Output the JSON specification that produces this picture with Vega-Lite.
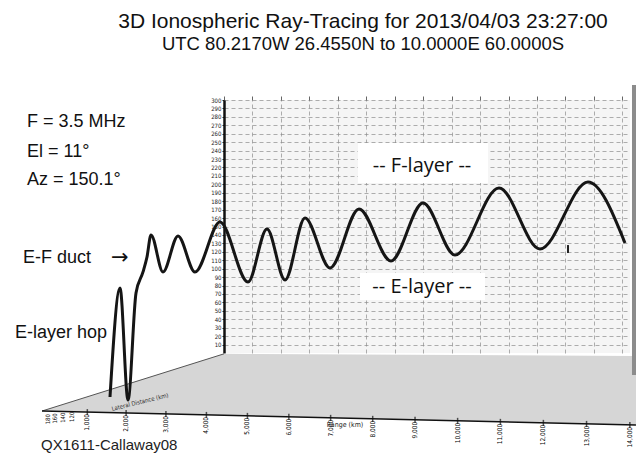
{
  "$schema": "https://vega.github.io/schema/vega-lite/v6.json",
  "width": 406,
  "height": 253,
  "autosize": {"type": "none"},
  "padding": {"left": 224, "top": 100, "right": 6, "bottom": 102},
  "background": "white",
  "config": {"view": {"fill": "#f5f5f5", "stroke": null}, "font": "Liberation Sans"},
  "title": {
    "text": "3D Ionospheric Ray-Tracing for 2013/04/03 23:27:00",
    "subtitle": "UTC 80.2170W 26.4550N to 10.0000E 60.0000S",
    "anchor": "middle",
    "frame": "group",
    "dx": -64,
    "offset": 31,
    "font": "Liberation Sans",
    "fontSize": 21,
    "fontWeight": "normal",
    "color": "#111111",
    "subtitleFont": "Liberation Sans",
    "subtitleFontSize": 18.5,
    "subtitleColor": "#111111",
    "subtitlePadding": 3
  },
  "datasets": {
    "ray": [
      {"r": -4006, "h": -52.2},
      {"r": -3654, "h": 77.1},
      {"r": -3373, "h": -55.8},
      {"r": -3092, "h": 71.2},
      {"r": -2846, "h": 96.1},
      {"r": -2706, "h": 113.9},
      {"r": -2565, "h": 140.0},
      {"r": -2144, "h": 96.1},
      {"r": -1616, "h": 138.8},
      {"r": -1019, "h": 96.1},
      {"r": -141, "h": 155.4},
      {"r": 843, "h": 84.2},
      {"r": 1511, "h": 147.1},
      {"r": 2144, "h": 86.6},
      {"r": 2846, "h": 160.1},
      {"r": 3725, "h": 100.8},
      {"r": 4744, "h": 170.8},
      {"r": 5868, "h": 109.1},
      {"r": 6993, "h": 177.9},
      {"r": 8117, "h": 116.2},
      {"r": 9664, "h": 195.7},
      {"r": 11104, "h": 123.4},
      {"r": 12791, "h": 202.8},
      {"r": 14091, "h": 130.5}
    ],
    "floor": [
      {"r": -6395, "top": -68.8, "bottom": -68.8},
      {"r": 0, "top": -1.0, "bottom": -73.9},
      {"r": 14478, "top": -3.6, "bottom": -85.4}
    ],
    "front": [
      {"km": 1000, "label": "1,000"},
      {"km": 2000, "label": "2,000"},
      {"km": 3000, "label": "3,000"},
      {"km": 4000, "label": "4,000"},
      {"km": 5000, "label": "5,000"},
      {"km": 6000, "label": "6,000"},
      {"km": 7000, "label": "7,000"},
      {"km": 8000, "label": "8,000"},
      {"km": 9000, "label": "9,000"},
      {"km": 10000, "label": "10,000"},
      {"km": 11000, "label": "11,000"},
      {"km": 12000, "label": "12,000"},
      {"km": 13000, "label": "13,000"},
      {"km": 14000, "label": "14,000"}
    ],
    "edge": [{"km": -267}, {"km": 14140}]
  },
  "layer": [
    {
      "data": {"name": "floor"},
      "mark": {"type": "area", "fill": "#d6d6d6"},
      "encoding": {
        "x": {"field": "r", "type": "quantitative", "scale": {"domain": [0, 14267], "nice": false, "zero": false}, "axis": null},
        "y": {"field": "top", "type": "quantitative", "scale": {"domain": [0, 300], "nice": false, "zero": false}, "axis": null},
        "y2": {"field": "bottom"}
      }
    },
    {
      "data": {"name": "floor"},
      "transform": [{"filter": "datum.r <= 0"}],
      "mark": {"type": "line", "color": "#555555", "strokeWidth": 1},
      "encoding": {
        "x": {"field": "r", "type": "quantitative", "scale": {"domain": [0, 14267], "nice": false, "zero": false}, "axis": null},
        "y": {"field": "top", "type": "quantitative", "scale": {"domain": [0, 300], "nice": false, "zero": false}, "axis": null}
      }
    },
    {
      "data": {"values": [{}]},
      "mark": {"type": "rect", "fill": "white"},
      "encoding": {
        "x": {"datum": 4709, "type": "quantitative", "scale": {"domain": [0, 14267], "nice": false, "zero": false}, "axis": null},
        "x2": {"datum": 9277},
        "y": {"datum": 249.1, "type": "quantitative", "scale": {"domain": [0, 300], "nice": false, "zero": false}, "axis": null},
        "y2": {"datum": 201.7}
      }
    },
    {
      "data": {"values": [{}]},
      "mark": {"type": "rect", "fill": "white"},
      "encoding": {
        "x": {"datum": 4779, "type": "quantitative", "scale": {"domain": [0, 14267], "nice": false, "zero": false}, "axis": null},
        "x2": {"datum": 9172},
        "y": {"datum": 94.9, "type": "quantitative", "scale": {"domain": [0, 300], "nice": false, "zero": false}, "axis": null},
        "y2": {"datum": 62.9}
      }
    },
    {
      "data": {"name": "ray"},
      "mark": {"type": "line", "color": "#151515", "strokeWidth": 3, "interpolate": "monotone"},
      "encoding": {
        "x": {
          "field": "r", "type": "quantitative",
          "scale": {"domain": [0, 14267], "nice": false, "zero": false},
          "axis": {
            "orient": "top", "title": null, "labels": false, "domain": false,
            "values": [0, 1000, 2000, 3000, 4000, 5000, 6000, 7000, 8000, 9000, 10000, 11000, 12000, 13000, 14000],
            "ticks": true, "tickSize": 4, "tickColor": "#666666",
            "grid": true, "gridDash": [4, 3], "gridColor": "#8c8c8c", "gridWidth": 0.7
          }
        },
        "y": {
          "field": "h", "type": "quantitative",
          "scale": {"domain": [0, 300], "nice": false, "zero": false},
          "axis": {
            "orient": "left", "title": null,
            "values": [10, 20, 30, 40, 50, 60, 70, 80, 90, 100, 110, 120, 130, 140, 150, 160, 170, 180, 190, 200, 210, 220, 230, 240, 250, 260, 270, 280, 290, 300],
            "labelFontSize": 6, "labelFont": "DejaVu Sans Condensed", "labelColor": "#222222", "labelPadding": 1, "labelOverlap": false,
            "tickSize": 2, "tickColor": "#222222",
            "domainColor": "#111111", "domainWidth": 2.5,
            "grid": true, "gridDash": [4, 3], "gridColor": "#8c8c8c", "gridWidth": 0.7
          }
        }
      }
    },
    {
      "data": {"values": [{}]},
      "mark": {"type": "text", "text": "-- F-layer --", "align": "center", "baseline": "alphabetic", "font": "Open Sans", "fontSize": 20, "color": "#111111"},
      "encoding": {
        "x": {"datum": 6958, "type": "quantitative", "scale": {"domain": [0, 14267], "nice": false, "zero": false}, "axis": null},
        "y": {"datum": 214.7, "type": "quantitative", "scale": {"domain": [0, 300], "nice": false, "zero": false}, "axis": null}
      }
    },
    {
      "data": {"values": [{}]},
      "mark": {"type": "text", "text": "-- E-layer --", "align": "center", "baseline": "alphabetic", "font": "Open Sans", "fontSize": 20, "color": "#111111"},
      "encoding": {
        "x": {"datum": 6958, "type": "quantitative", "scale": {"domain": [0, 14267], "nice": false, "zero": false}, "axis": null},
        "y": {"datum": 71.2, "type": "quantitative", "scale": {"domain": [0, 300], "nice": false, "zero": false}, "axis": null}
      }
    },
    {
      "data": {"values": [{}]},
      "mark": {"type": "text", "text": "F = 3.5 MHz", "align": "left", "baseline": "alphabetic", "fontSize": 18, "color": "#111111"},
      "encoding": {
        "x": {"datum": -6923, "type": "quantitative", "scale": {"domain": [0, 14267], "nice": false, "zero": false}, "axis": null},
        "y": {"datum": 268.1, "type": "quantitative", "scale": {"domain": [0, 300], "nice": false, "zero": false}, "axis": null}
      }
    },
    {
      "data": {"values": [{}]},
      "mark": {"type": "text", "text": "El = 11°", "align": "left", "baseline": "alphabetic", "fontSize": 18, "color": "#111111"},
      "encoding": {
        "x": {"datum": -6923, "type": "quantitative", "scale": {"domain": [0, 14267], "nice": false, "zero": false}, "axis": null},
        "y": {"datum": 232.5, "type": "quantitative", "scale": {"domain": [0, 300], "nice": false, "zero": false}, "axis": null}
      }
    },
    {
      "data": {"values": [{}]},
      "mark": {"type": "text", "text": "Az = 150.1°", "align": "left", "baseline": "alphabetic", "fontSize": 18, "color": "#111111"},
      "encoding": {
        "x": {"datum": -6923, "type": "quantitative", "scale": {"domain": [0, 14267], "nice": false, "zero": false}, "axis": null},
        "y": {"datum": 199.3, "type": "quantitative", "scale": {"domain": [0, 300], "nice": false, "zero": false}, "axis": null}
      }
    },
    {
      "data": {"values": [{}]},
      "mark": {"type": "text", "text": "E-F duct", "align": "left", "baseline": "alphabetic", "fontSize": 18, "color": "#111111"},
      "encoding": {
        "x": {"datum": -7063, "type": "quantitative", "scale": {"domain": [0, 14267], "nice": false, "zero": false}, "axis": null},
        "y": {"datum": 106.8, "type": "quantitative", "scale": {"domain": [0, 300], "nice": false, "zero": false}, "axis": null}
      }
    },
    {
      "data": {"values": [{}]},
      "mark": {"type": "text", "text": "→", "align": "left", "baseline": "middle", "font": "DejaVu Sans", "fontSize": 21, "color": "#111111"},
      "encoding": {
        "x": {"datum": -3972, "type": "quantitative", "scale": {"domain": [0, 14267], "nice": false, "zero": false}, "axis": null},
        "y": {"datum": 112.7, "type": "quantitative", "scale": {"domain": [0, 300], "nice": false, "zero": false}, "axis": null}
      }
    },
    {
      "data": {"values": [{}]},
      "mark": {"type": "text", "text": "E-layer hop", "align": "left", "baseline": "alphabetic", "fontSize": 18, "color": "#111111"},
      "encoding": {
        "x": {"datum": -7344, "type": "quantitative", "scale": {"domain": [0, 14267], "nice": false, "zero": false}, "axis": null},
        "y": {"datum": 17.8, "type": "quantitative", "scale": {"domain": [0, 300], "nice": false, "zero": false}, "axis": null}
      }
    },
    {
      "data": {"values": [{}]},
      "mark": {"type": "text", "text": "QX1611-Callaway08", "align": "left", "baseline": "alphabetic", "fontSize": 15, "color": "#222222"},
      "encoding": {
        "x": {"datum": -6431, "type": "quantitative", "scale": {"domain": [0, 14267], "nice": false, "zero": false}, "axis": null},
        "y": {"datum": -115.1, "type": "quantitative", "scale": {"domain": [0, 300], "nice": false, "zero": false}, "axis": null}
      }
    },
    {
      "data": {"values": [{}]},
      "mark": {"type": "text", "text": "Lateral Distance (km)", "align": "center", "baseline": "middle", "angle": 346, "font": "DejaVu Sans Condensed", "fontSize": 6, "color": "#333333"},
      "encoding": {
        "x": {"datum": -2952, "type": "quantitative", "scale": {"domain": [0, 14267], "nice": false, "zero": false}, "axis": null},
        "y": {"datum": -58.1, "type": "quantitative", "scale": {"domain": [0, 300], "nice": false, "zero": false}, "axis": null}
      }
    },
    {
      "data": {"values": [{}]},
      "mark": {"type": "text", "text": "180", "angle": 270, "align": "right", "baseline": "middle", "font": "DejaVu Sans Condensed", "fontSize": 6, "color": "#111111"},
      "encoding": {
        "x": {"datum": -6185, "type": "quantitative", "scale": {"domain": [0, 14267], "nice": false, "zero": false}, "axis": null},
        "y": {"datum": -72.4, "type": "quantitative", "scale": {"domain": [0, 300], "nice": false, "zero": false}, "axis": null}
      }
    },
    {
      "data": {"values": [{}]},
      "mark": {"type": "text", "text": "160", "angle": 270, "align": "right", "baseline": "middle", "font": "DejaVu Sans Condensed", "fontSize": 6, "color": "#111111"},
      "encoding": {
        "x": {"datum": -5939, "type": "quantitative", "scale": {"domain": [0, 14267], "nice": false, "zero": false}, "axis": null},
        "y": {"datum": -71.5, "type": "quantitative", "scale": {"domain": [0, 300], "nice": false, "zero": false}, "axis": null}
      }
    },
    {
      "data": {"values": [{}]},
      "mark": {"type": "text", "text": "140", "angle": 270, "align": "right", "baseline": "middle", "font": "DejaVu Sans Condensed", "fontSize": 6, "color": "#111111"},
      "encoding": {
        "x": {"datum": -5658, "type": "quantitative", "scale": {"domain": [0, 14267], "nice": false, "zero": false}, "axis": null},
        "y": {"datum": -70.6, "type": "quantitative", "scale": {"domain": [0, 300], "nice": false, "zero": false}, "axis": null}
      }
    },
    {
      "data": {"values": [{}]},
      "mark": {"type": "text", "text": "120", "angle": 270, "align": "right", "baseline": "middle", "font": "DejaVu Sans Condensed", "fontSize": 6, "color": "#111111"},
      "encoding": {
        "x": {"datum": -5341, "type": "quantitative", "scale": {"domain": [0, 14267], "nice": false, "zero": false}, "axis": null},
        "y": {"datum": -69.6, "type": "quantitative", "scale": {"domain": [0, 300], "nice": false, "zero": false}, "axis": null}
      }
    },
    {
      "data": {"values": [{}]},
      "mark": {"type": "rect", "fill": "#8c8c8c"},
      "encoding": {
        "x": {"datum": 14337, "type": "quantitative", "scale": {"domain": [0, 14267], "nice": false, "zero": false}, "axis": null},
        "x2": {"datum": 14478},
        "y": {"datum": 317.9, "type": "quantitative", "scale": {"domain": [0, 300], "nice": false, "zero": false}, "axis": null},
        "y2": {"datum": -26.1}
      }
    },
    {
      "data": {"values": [{}]},
      "mark": {"type": "rule", "color": "#222222", "strokeWidth": 2},
      "encoding": {
        "x": {"datum": 12088, "type": "quantitative", "scale": {"domain": [0, 14267], "nice": false, "zero": false}, "axis": null},
        "y": {"datum": 118.6, "type": "quantitative", "scale": {"domain": [0, 300], "nice": false, "zero": false}, "axis": null},
        "y2": {"datum": 128}
      }
    },
    {
      "data": {"name": "edge"},
      "mark": {"type": "line", "color": "#111111", "strokeWidth": 1.5},
      "encoding": {
        "x": {"field": "km", "type": "quantitative", "scale": {"type": "pow", "exponent": 1.05, "domain": [4430, 14003], "nice": false, "zero": false}, "axis": null},
        "y": {"field": "km", "type": "quantitative", "scale": {"type": "pow", "exponent": 1.05, "domain": [-55700, -274800], "nice": false, "zero": false}, "axis": null}
      }
    },
    {
      "data": {"name": "front"},
      "mark": {"type": "tick", "orient": "vertical", "color": "#111111", "size": 6, "thickness": 1.5},
      "encoding": {
        "x": {"field": "km", "type": "quantitative", "scale": {"type": "pow", "exponent": 1.05, "domain": [4430, 14003], "nice": false, "zero": false}, "axis": null},
        "y": {"field": "km", "type": "quantitative", "scale": {"type": "pow", "exponent": 1.05, "domain": [-55700, -274800], "nice": false, "zero": false}, "axis": null}
      }
    },
    {
      "data": {"name": "front"},
      "mark": {"type": "text", "angle": 270, "align": "right", "baseline": "middle", "yOffset": 2, "font": "DejaVu Sans Condensed", "fontSize": 6.5, "color": "#000000"},
      "encoding": {
        "x": {"field": "km", "type": "quantitative", "scale": {"type": "pow", "exponent": 1.05, "domain": [4430, 14003], "nice": false, "zero": false}, "axis": null},
        "y": {"field": "km", "type": "quantitative", "scale": {"type": "pow", "exponent": 1.05, "domain": [-55700, -274800], "nice": false, "zero": false}, "axis": null},
        "text": {"field": "label"}
      }
    },
    {
      "data": {"values": [{}]},
      "mark": {"type": "text", "text": "Range (km)", "align": "left", "baseline": "middle", "xOffset": -4, "yOffset": 7, "font": "DejaVu Sans Condensed", "fontSize": 7, "color": "#222222"},
      "encoding": {
        "x": {"datum": 7000, "type": "quantitative", "scale": {"type": "pow", "exponent": 1.05, "domain": [4430, 14003], "nice": false, "zero": false}, "axis": null},
        "y": {"datum": 7000, "type": "quantitative", "scale": {"type": "pow", "exponent": 1.05, "domain": [-55700, -274800], "nice": false, "zero": false}, "axis": null}
      }
    }
  ],
  "resolve": {"scale": {"x": "independent", "y": "independent"}}
}
